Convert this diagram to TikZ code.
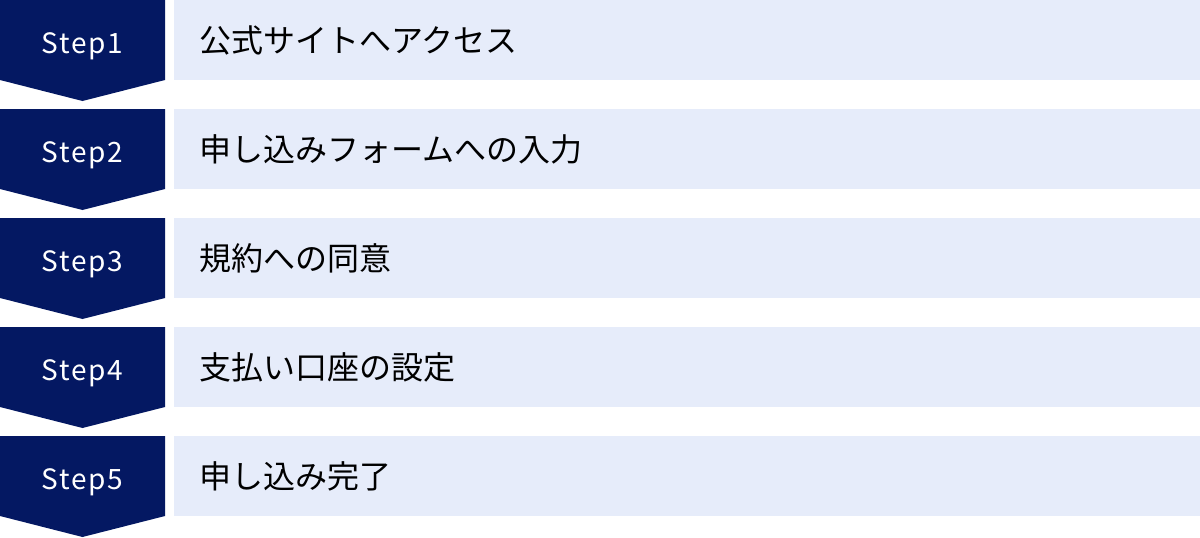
\documentclass[tikz,border=0pt]{standalone}
\usepackage{fontspec}
\setmainfont{Noto Sans CJK JP}
\newfontfamily\stepfont[LetterSpace=6]{Noto Sans CJK JP}
\usetikzlibrary{calc}
\definecolor{stepnavy}{HTML}{041862}
\definecolor{boxblue}{HTML}{E6ECFA}
\tikzset{
	steplabel/.style={anchor=base, inner sep=0pt, text=white, font=\stepfont\fontsize{28}{30}\selectfont},
	boxlabel/.style={anchor=base west, inner sep=0pt, text=black, font=\fontsize{32}{34}\selectfont},
}

\begin{document}
\begin{tikzpicture}[x=1pt, y=-1pt]
		%%%%% START %%%%%
		\useasboundingbox (0, 0) rectangle (1200, 538);
		
		\fill[stepnavy] (0, 0) -- (165, 0) -- (165, 80) -- (82.5, 101) -- (0, 80) -- cycle;
		\fill[boxblue] (174, 0) rectangle (1200, 80);
		\node[steplabel] (s1) at (82.5, 53) {Step1};
		\node[boxlabel] (t1) at (199, 52) {公式サイトへアクセス};
		
		\fill[stepnavy] (0, 109) -- (165, 109) -- (165, 189) -- (82.5, 210) -- (0, 189) -- cycle;
		\fill[boxblue] (174, 109) rectangle (1200, 189);
		\node[steplabel] (s2) at (82.5, 162) {Step2};
		\node[boxlabel] (t2) at (199, 161) {申し込みフォームへの入力};
		
		\fill[stepnavy] (0, 218) -- (165, 218) -- (165, 298) -- (82.5, 319) -- (0, 298) -- cycle;
		\fill[boxblue] (174, 218) rectangle (1200, 298);
		\node[steplabel] (s3) at (82.5, 271) {Step3};
		\node[boxlabel] (t3) at (199, 270) {規約への同意};
		
		\fill[stepnavy] (0, 327) -- (165, 327) -- (165, 407) -- (82.5, 428) -- (0, 407) -- cycle;
		\fill[boxblue] (174, 327) rectangle (1200, 407);
		\node[steplabel] (s4) at (82.5, 380) {Step4};
		\node[boxlabel] (t4) at (199, 379) {支払い口座の設定};
		
		\fill[stepnavy] (0, 436) -- (165, 436) -- (165, 516) -- (82.5, 537) -- (0, 516) -- cycle;
		\fill[boxblue] (174, 436) rectangle (1200, 516);
		\node[steplabel] (s5) at (82.5, 489) {Step5};
		\node[boxlabel] (t5) at (199, 488) {申し込み完了};
		
		%%%%% END %%%%%
	\end{tikzpicture}
\end{document}
